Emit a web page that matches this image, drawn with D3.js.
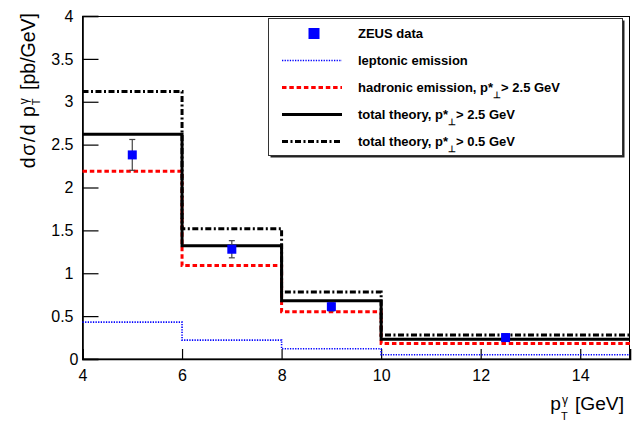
<!DOCTYPE html>
<html>
<head>
<meta charset="utf-8">
<script src="https://cdn.jsdelivr.net/npm/d3@7"></script>
<style>
  html, body { margin: 0; padding: 0; background: #fff; }
  svg { display: block; font-family: "Liberation Sans", Arial, Helvetica, sans-serif; }
</style>
</head>
<body>
<svg id="chart" width="634" height="421"></svg>
<script>
// Bin edges of the p_T^gamma histograms (GeV)
const binEdges = [4, 6, 8, 10, 15];

// Theory predictions per bin (pb/GeV)
const leptonic = [0.43, 0.22, 0.12, 0.05];
const hadronic = [2.19, 1.09, 0.55, 0.18];
const totalHigh = [2.62, 1.32, 0.68, 0.23];   // p*_perp > 2.5 GeV
const totalLow = [3.12, 1.52, 0.78, 0.28];    // p*_perp > 0.5 GeV

// ZEUS measurement
const zeusX = [5, 7, 9, 12.5];
const zeusY = [2.38, 1.28, 0.61, 0.25];
const zeusErr = [0.18, 0.10, 0.05, 0.03];

// Axis ticks
const xTicks = [4, 6, 8, 10, 12, 14];
const yTicks = [0, 0.5, 1, 1.5, 2, 2.5, 3, 3.5, 4];
const yTickLabels = ["0", "0.5", "1", "1.5", "2", "2.5", "3", "3.5", "4"];

const svg = d3.select("#chart");
const padL = 82.5, padR = 630, padT = 16, padB = 359;

const x = d3.scaleLinear().domain([4, 15]).range([padL, padR]);
const y = d3.scaleLinear().domain([0, 4]).range([padB, padT]);

// Frame
svg.append("rect")
  .attr("x", padL).attr("y", padT + 0.5)
  .attr("width", padR - padL - 0.5).attr("height", padB - padT - 0.5)
  .attr("fill", "none").attr("stroke", "#000").attr("stroke-width", 1);

// Minor and major ticks, drawn inward
const yMinor = d3.range(0, 4.001, 0.1);
const xMinor = d3.range(4, 15.001, 0.5);

const gY = svg.append("g").attr("transform", `translate(${padL},0)`);
gY.call(d3.axisLeft(y).tickValues(yMinor).tickSize(-8).tickFormat(""));
gY.call(d3.axisLeft(y).tickValues(yTicks).tickSize(-16).tickPadding(9)
  .tickFormat((d, i) => yTickLabels[i]));

const gX = svg.append("g").attr("transform", `translate(0,${padB})`);
gX.call(d3.axisBottom(x).tickValues(xMinor).tickSize(-5).tickFormat(""));
gX.call(d3.axisBottom(x).tickValues(xTicks).tickSize(-10).tickPadding(11)
  .tickFormat(d3.format("d")));

[gX, gY].forEach(g => {
  g.selectAll(".domain").attr("stroke", "#000").attr("stroke-width", 1.6);
  g.selectAll(".tick line").attr("stroke", "#000").attr("stroke-width", 1.2);
  g.selectAll(".tick text").attr("font-size", 16).attr("fill", "#000")
    .attr("font-family", "Liberation Sans, Arial, sans-serif");
});
// The zero label sits a little closer to the axis corner
gY.selectAll(".tick text").filter(d => d === 0).attr("x", -4);

// Histogram outlines as step lines
const stepLine = d3.line()
  .x(d => x(d[0])).y(d => y(d[1]))
  .curve(d3.curveStepAfter);
const stepPoints = vals => vals.map((v, i) => [binEdges[i], v])
  .concat([[binEdges[binEdges.length - 1], vals[vals.length - 1]]]);

const series = [
  { vals: leptonic, color: "#0000ff", width: 1.6, dash: "1.3,1.3" },
  { vals: hadronic, color: "#ff0000", width: 3, dash: "4.5,2.8" },
  { vals: totalLow, color: "#000", width: 3, dash: "6,2.5,2,2.5" },
  { vals: totalHigh, color: "#000", width: 3, dash: null }
];

const plot = svg.append("g");
series.forEach(s => {
  plot.append("path")
    .attr("d", stepLine(stepPoints(s.vals)))
    .attr("fill", "none")
    .attr("stroke", s.color)
    .attr("stroke-width", s.width)
    .attr("stroke-dasharray", s.dash);
});

// Data points with error bars
const pts = svg.append("g");
zeusX.forEach((xv, i) => {
  const cx = x(xv), cy = y(zeusY[i]);
  const y1 = y(zeusY[i] + zeusErr[i]), y2 = y(zeusY[i] - zeusErr[i]);
  pts.append("line").attr("x1", cx).attr("x2", cx).attr("y1", y1).attr("y2", y2)
    .attr("stroke", "#444").attr("stroke-width", 1.2);
  [y1, y2].forEach(yy => pts.append("line")
    .attr("x1", cx - 3).attr("x2", cx + 3).attr("y1", yy).attr("y2", yy)
    .attr("stroke", "#444").attr("stroke-width", 1.2));
  pts.append("rect").attr("x", cx - 4.5).attr("y", cy - 4.5)
    .attr("width", 9).attr("height", 9).attr("fill", "#0000ff");
});

// Axis titles
svg.append("text")
  .attr("transform", "translate(34.5,13) rotate(-90)")
  .attr("text-anchor", "end")
  .attr("font-size", 19.5)
  .call(t => {
    t.append("tspan").attr("letter-spacing", 1.5).text("dσ/d");
    t.append("tspan").attr("dx", 6).text("p");
    t.append("tspan").attr("font-size", 12).attr("dx", 2).attr("dy", -7).text("γ");
    t.append("tspan").attr("font-size", 11).attr("dx", -7).attr("dy", 12).text("T");
    t.append("tspan").attr("dx", 3).attr("dy", -5).text(" [pb/GeV]");
  });

svg.append("text")
  .attr("x", 624).attr("y", 410)
  .attr("text-anchor", "end")
  .attr("font-size", 19.2)
  .call(t => {
    t.append("tspan").text("p");
    t.append("tspan").attr("font-size", 12).attr("dx", 1).attr("dy", -6).text("γ");
    t.append("tspan").attr("font-size", 11).attr("dx", -7).attr("dy", 16).text("T");
    t.append("tspan").attr("dx", 2).attr("dy", -10).text(" [GeV]");
  });

// Legend
const leg = svg.append("g");
const lx = 268.5, ly = 18.5, lw = 354, lh = 137;
leg.append("rect").attr("x", lx + 2).attr("y", ly + 2).attr("width", lw).attr("height", lh)
  .attr("fill", "#222");
leg.append("rect").attr("x", lx).attr("y", ly).attr("width", lw).attr("height", lh)
  .attr("fill", "#fff").attr("stroke", "#333").attr("stroke-width", 1);

const rowY = [33.5, 60.5, 87.5, 114.5, 141.5];
const entries = [
  { type: "marker", label: ["ZEUS data"] },
  { type: "line", s: series[0], label: ["leptonic emission"] },
  { type: "line", s: series[1], label: ["hadronic emission, p*", "> 2.5 GeV"] },
  { type: "line", s: series[3], label: ["total theory, p*", "> 2.5 GeV"] },
  { type: "line", s: series[2], label: ["total theory, p*", "> 0.5 GeV"] }
];
entries.forEach((e, i) => {
  const cy = rowY[i];
  if (e.type === "marker") {
    leg.append("rect").attr("x", 314 - 5.5).attr("y", cy - 5.5)
      .attr("width", 11).attr("height", 11).attr("fill", "#0000ff");
  } else {
    leg.append("line").attr("x1", 282).attr("x2", 342).attr("y1", cy).attr("y2", cy)
      .attr("stroke", e.s.color).attr("stroke-width", e.s.width)
      .attr("stroke-dasharray", e.s.dash);
  }
  const t = leg.append("text").attr("x", 358).attr("y", cy + 4.5)
    .attr("font-size", 13).attr("font-weight", "bold");
  t.append("tspan").text(e.label[0]);
  if (e.label.length > 1) {
    t.append("tspan").attr("font-size", 9).attr("dy", 6).text("⊥");
    t.append("tspan").attr("dx", 0).attr("dy", -6).text(e.label[1]);
  }
});
</script>
</body>
</html>
